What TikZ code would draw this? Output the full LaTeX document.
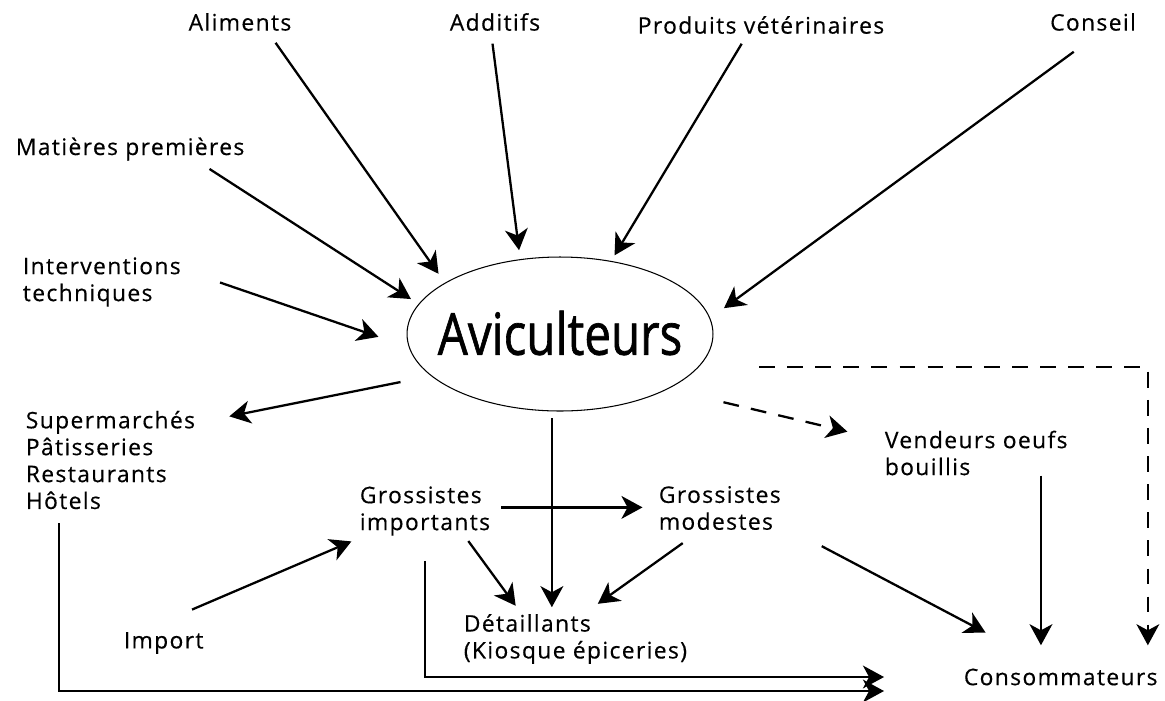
\documentclass[tikz,border=0pt]{standalone}
\usepackage{fontspec}
\setmainfont{Open Sans}[LetterSpace=6,FakeBold=0.4]
\newfontfamily\avicfont{Open Sans}[FakeBold=1.2]
\usetikzlibrary{arrows.meta,shapes.geometric}

\tikzset{
  lbl/.style={inner sep=2pt, align=left, font=\fontsize{13}{15.3}\selectfont},
  arr/.style={-{Stealth[length=12pt,width=13pt,inset=3.5pt]}, line width=1.3pt},
  dsh/.style={arr, dash pattern=on 9pt off 7pt},
}

\begin{document}
\begin{tikzpicture}[x=0.02cm,y=-0.02cm]
  \useasboundingbox (0,0) rectangle (1165,700);

  % centre
  \node[ellipse, draw, line width=0.6pt, inner sep=0pt,
        minimum width=6.12cm, minimum height=3.08cm] (avic) at (560,334) {};
  \node[inner sep=0pt] (avictxt) at (560,333)
        {\avicfont\fontsize{33}{36}\selectfont\scalebox{0.82}[1]{Aviculteurs}};

  % inputs
  \node[lbl] (alim) at (240,22) {Aliments};
  \node[lbl] (add) at (495,22) {Additifs};
  \node[lbl] (prod) at (761,25) {Produits vétérinaires};
  \node[lbl] (conseil) at (1093,22) {Conseil};
  \node[lbl, anchor=west] (mat) at (12,149) {Matières premières};
  \node[lbl, anchor=west] (interv) at (19,282) {Interventions\\techniques};

  % outputs
  \node[lbl, anchor=west] (sup) at (22,460) {Supermarchés\\Pâtisseries\\Restaurants\\Hôtels};
  \node[lbl, anchor=west] (gi) at (356,511) {Grossistes\\importants};
  \node[lbl, anchor=west] (gm) at (655,508) {Grossistes\\modestes};
  \node[lbl, anchor=west] (det) at (460,639) {Détaillants\\(Kiosque épiceries)};
  \node[lbl, anchor=west] (imp) at (120,643) {Import};
  \node[lbl, anchor=west] (vend) at (881,453) {Vendeurs oeufs\\bouillis};
  \node[lbl, anchor=west] (conso) at (960,677) {Consommateurs};
  \coordinate (dstart) at (759,367);

  % arrows to the centre
  \draw[arr, shorten <=0.2cm, shorten >=0.22cm] (alim.-23) -- (avic.156);
  \draw[arr, shorten <=0.18cm, shorten >=0.18cm] (add.-106) -- (avic.118);
  \draw[arr, shorten <=0.14cm, shorten >=0.13cm] (prod.-141) -- (avic.55);
  \draw[arr, shorten <=0.58cm, shorten >=0.34cm] (conseil.-72) -- (avic.6.5);
  \draw[arr, shorten <=0.17cm, shorten >=0.18cm] (mat.-12) -- (avic.168);
  \draw[arr, shorten <=0.75cm, shorten >=0.64cm] (interv.8) -- (avic.185);

  % arrows from the centre
  \draw[arr, shorten <=0.62cm, shorten >=0.62cm] (avic.198) -- (sup.23);
  \draw[arr, shorten <=0.14cm, shorten >=0.06cm] (avic.-96) -- (avic.-96 |- det.north);
  \draw[dsh, shorten <=1.14cm, shorten >=0.69cm] (avic.-27) -- (vend.172.4);
  \draw[dsh, shorten >=0.39cm] (dstart) -| (conso.8.8);

  % distribution
  \draw[arr, shorten <=0.15cm, shorten >=0.25cm] (gi.3.2) -- (gi.3.2 -| gm.west);
  \draw[arr, shorten <=0.04cm, shorten >=0.11cm] (gi.-34.3) -- (det.153.8);
  \draw[arr, shorten <=0.32cm, shorten >=0.22cm] (gm.-133.3) -- (det.65);
  \draw[arr, shorten <=0.95cm, shorten >=0.1cm] (imp.136) -- (gi.south west);
  \draw[arr, shorten <=0.84cm, shorten >=1.38cm] (gm.-16.7) -- (conso.139.6);
  \draw[arr, shorten <=-0.07cm, shorten >=0.39cm] (vend.-22) -- (vend.-22 |- conso.north);
  \draw[arr, shorten <=0.2cm, shorten >=1.52cm] (sup.-134.4) |- ([yshift=-0.28cm]conso.west);
  \draw[arr, shorten <=0.43cm, shorten >=1.52cm] (gi.south) |- (conso.west);
\end{tikzpicture}
\end{document}
